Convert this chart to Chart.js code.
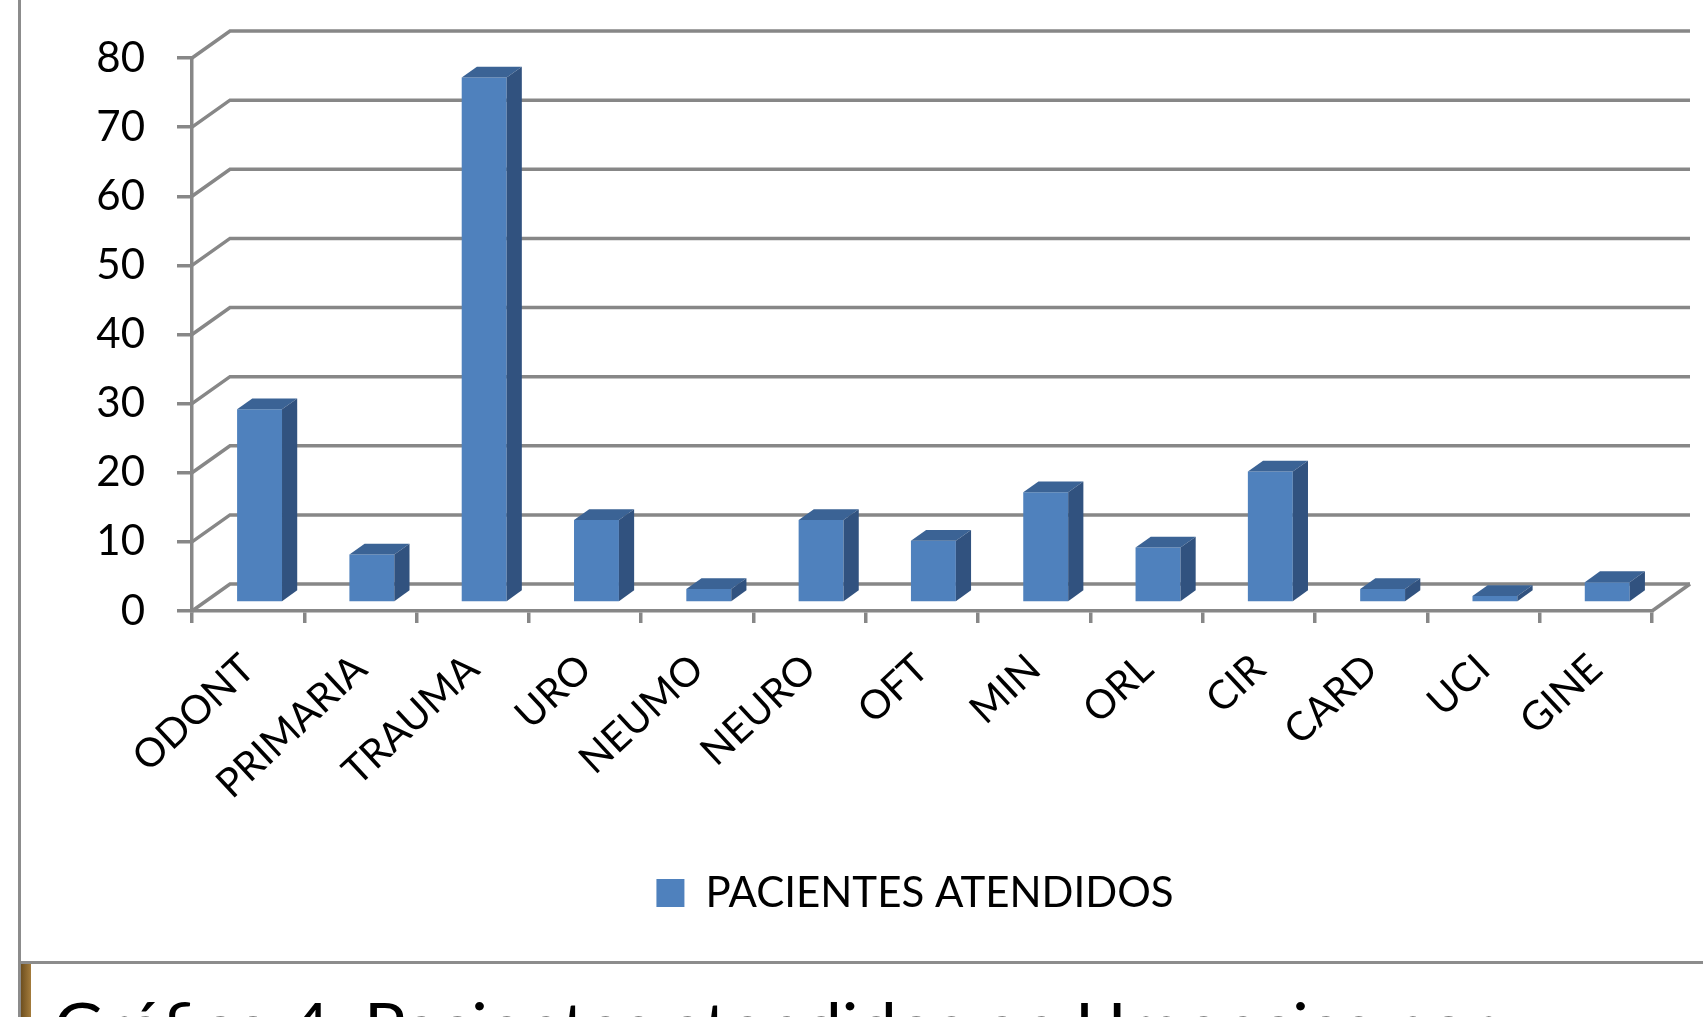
<!DOCTYPE html>
<html>
<head>
<meta charset="utf-8">
<script src="https://cdn.jsdelivr.net/npm/chart.js@4.4.1/dist/chart.umd.min.js"></script>
<style>
  html, body { margin:0; padding:0; background:#fff; width:1703px; height:1017px; overflow:hidden; position:relative; }
  #wrap { position:absolute; left:22px; top:0; width:1786px; height:961px; }
  #vline { position:absolute; left:18px; top:0; width:3px; height:1017px; background:#8c8c8c; }
  #hline { position:absolute; left:18px; top:961px; width:1685px; height:3px; background:#8c8c8c; }
  #strip { position:absolute; left:21px; top:964px; width:10px; height:53px; background:linear-gradient(90deg,#6e4f1f,#a47c3c); }
  #caption { position:absolute; left:54px; top:985px; font-family:Lato, sans-serif; font-size:66px; line-height:1.2; white-space:nowrap; color:#000; transform-origin:0 0; }
</style>
</head>
<body>
<div id="vline"></div>
<div id="wrap"><canvas id="c" width="1786" height="961"></canvas></div>
<div id="hline"></div>
<div id="strip"></div>
<div id="caption"></div>
<script>
// ---- data ----
const categories = ['ODONT','PRIMARIA','TRAUMA','URO','NEUMO','NEURO','OFT','MIN','ORL','CIR','CARD','UCI','GINE'];
const pacientes = [28, 7, 76, 12, 2, 12, 9, 16, 8, 19, 2, 1, 3];
const seriesLabel = 'PACIENTES ATENDIDOS';
const yMin = 0, yMax = 80, yStep = 10;
const captionText = 'Gráfico 4. Pacientes atendidos en Urgencias por';

// ---- style ----
const GRID = '#878787';
const FRONT = '#4F81BD', TOP = '#3B6395', SIDE = '#31527F';
const WALL_DX = 38, WALL_DY = -27;      // depth of the 3D box
const BAR_FRONT = 0.3, BAR_DEPTH = 0.4; // bar position within depth

const fake3d = {
  id: 'fake3d',
  beforeDatasetsDraw(chart) {
    const { ctx, chartArea: a, scales: { y } } = chart;
    ctx.save();
    ctx.strokeStyle = GRID;
    ctx.lineWidth = 3.5;
    y.ticks.forEach(t => {
      const py = y.getPixelForValue(t.value);
      ctx.beginPath();
      ctx.moveTo(a.left, py);
      ctx.lineTo(a.left + WALL_DX, py + WALL_DY);
      ctx.lineTo(a.right + WALL_DX, py + WALL_DY);
      ctx.stroke();
    });
    ctx.beginPath();
    ctx.moveTo(a.right, a.bottom);
    ctx.lineTo(a.right + WALL_DX, a.bottom + WALL_DY);
    ctx.stroke();
    ctx.restore();
    ctx.save();
    ctx.translate(WALL_DX * BAR_FRONT, WALL_DY * BAR_FRONT);
  },
  afterDatasetsDraw(chart) {
    const ctx = chart.ctx;
    const ddx = WALL_DX * BAR_DEPTH, ddy = WALL_DY * BAR_DEPTH;
    chart.getDatasetMeta(0).data.forEach(bar => {
      const { x, y, base, width } = bar.getProps(['x', 'y', 'base', 'width'], true);
      const l = x - width / 2, r = x + width / 2;
      ctx.fillStyle = TOP;
      ctx.beginPath();
      ctx.moveTo(l, y); ctx.lineTo(l + ddx, y + ddy); ctx.lineTo(r + ddx, y + ddy); ctx.lineTo(r, y);
      ctx.closePath(); ctx.fill();
      ctx.fillStyle = SIDE;
      ctx.beginPath();
      ctx.moveTo(r, y); ctx.lineTo(r + ddx, y + ddy); ctx.lineTo(r + ddx, base + ddy); ctx.lineTo(r, base);
      ctx.closePath(); ctx.fill();
    });
    ctx.restore();
  }
};

new Chart(document.getElementById('c'), {
  type: 'bar',
  data: {
    labels: categories,
    datasets: [{
      label: seriesLabel,
      data: pacientes,
      backgroundColor: FRONT,
      borderWidth: 0,
      barPercentage: 0.4,
      categoryPercentage: 1.0,
      clip: false
    }]
  },
  options: {
    responsive: false,
    devicePixelRatio: 1,
    animation: false,
    layout: { padding: { left: 0, right: 0, top: 58, bottom: 37 } },
    plugins: {
      legend: {
        position: 'bottom',
        labels: {
          color: '#000',
          font: { family: 'Lato', size: 42 },
          boxWidth: 28, boxHeight: 28, padding: 10
        }
      },
      tooltip: { enabled: false }
    },
    scales: {
      x: {
        grid: { offset: true, drawOnChartArea: false, drawTicks: true, tickLength: 12, color: GRID, lineWidth: 3.5 },
        border: { display: true, color: GRID, width: 3.5 },
        ticks: {
          color: '#000', font: { family: 'Lato', size: 40 },
          minRotation: 43, maxRotation: 43, autoSkip: false, padding: 22
        },
        afterFit(s) { s.height = 251; }
      },
      y: {
        min: yMin, max: yMax,
        grid: { drawOnChartArea: false, drawTicks: true, tickLength: 15, color: GRID, lineWidth: 3.5 },
        border: { display: true, color: GRID, width: 3.5 },
        ticks: { stepSize: yStep, color: '#000', font: { family: 'Lato', size: 42 }, padding: 32 },
        afterFit(s) { s.width = 170; }
      },
      yR: {
        position: 'right',
        display: true,
        grid: { display: false },
        border: { display: false },
        ticks: { display: false },
        afterFit(s) { s.width = 156; }
      }
    }
  },
  plugins: [fake3d]
});

const cap = document.getElementById('caption');
cap.textContent = captionText;
const w = cap.getBoundingClientRect().width;
cap.style.transform = 'scaleX(' + (1439 / w) + ')';
</script>
</body>
</html>
